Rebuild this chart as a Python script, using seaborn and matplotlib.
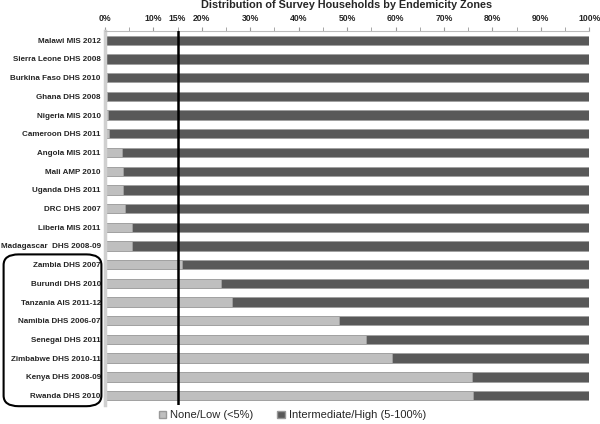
import numpy as np
import pandas as pd
import matplotlib
matplotlib.use('Agg')
import matplotlib.pyplot as plt
import seaborn as sns
from matplotlib.patches import FancyBboxPatch, Patch

surveys = ['Malawi MIS 2012', 'Sierra Leone DHS 2008', 'Burkina Faso DHS 2010', 'Ghana DHS 2008',
           'Nigeria MIS 2010', 'Cameroon DHS 2011', 'Angola MIS 2011', 'Mali AMP 2010',
           'Uganda DHS 2011', 'DRC DHS 2007', 'Liberia MIS 2011', 'Madagascar  DHS 2008-09',
           'Zambia DHS 2007', 'Burundi DHS 2010', 'Tanzania AIS 2011-12', 'Namibia DHS 2006-07',
           'Senegal DHS 2011', 'Zimbabwe DHS 2010-11', 'Kenya DHS 2008-09', 'Rwanda DHS 2010']
low = [0.0, 0.0, 0.4, 0.4, 0.7, 0.8, 3.6, 3.8, 3.8, 4.1, 5.6, 5.6,
       15.9, 24.0, 26.3, 48.4, 54.0, 59.2, 75.8, 76.0]
high = [100 - v for v in low]

light = '#bfbfbf'
dark = '#595959'

df = pd.DataFrame({'survey': surveys, 'low': low, 'high': high})
df['total'] = df['low'] + df['high']

sns.set_style('white')
plt.rcParams['font.family'] = ['Liberation Sans', 'DejaVu Sans']

fig = plt.figure(figsize=(6, 4.24), dpi=100)
ax = fig.add_axes([0.175, 0.045, 0.807, 0.882])

sns.barplot(data=df, x='total', y='survey', orient='h', color=dark, width=0.5,
            edgecolor='#a0a0a0', linewidth=0.6, saturation=1, ax=ax)
sns.barplot(data=df, x='low', y='survey', orient='h', color=light, width=0.5,
            edgecolor='#a0a0a0', linewidth=0.6, saturation=1, ax=ax)

ax.set_xlim(0, 100)
ax.set_ylim(len(surveys) - 0.5, -0.5)
ax.xaxis.tick_top()
ax.set_xticks(np.arange(0, 101, 10))
ax.set_xticks(np.arange(0, 101, 5), minor=True)
ax.set_xticklabels([f'{v}%' for v in range(0, 101, 10)], fontsize=6.2, fontweight='bold')
ax.tick_params(axis='x', which='both', top=True, length=3, color='#999999', pad=2.5)
ax.tick_params(axis='y', length=0, labelsize=5.8, pad=3)
for lab in ax.get_yticklabels():
    lab.set_fontweight('bold')
ax.set_xlabel('')
ax.set_ylabel('')

for s in ['right', 'bottom']:
    ax.spines[s].set_visible(False)
ax.spines['top'].set_color('#bbbbbb')
ax.spines['top'].set_linewidth(0.8)
ax.spines['left'].set_color('#d0d0d0')
ax.spines['left'].set_linewidth(2.5)

ax.axvline(15, color='black', linewidth=1.8, zorder=5)
ax.text(15, 1.02, '15%', transform=ax.get_xaxis_transform(), ha='center', va='bottom',
        fontsize=6.2, fontweight='bold')

fig.text(0.578, 1.0, 'Distribution of Survey Households by Endemicity Zones', fontsize=7.8,
         fontweight='bold', ha='center', va='top')

box = FancyBboxPatch((0.006, 0.042), 0.163, 0.358, boxstyle='round,pad=0,rounding_size=0.025',
                     transform=fig.transFigure, fill=False, edgecolor='black', linewidth=1.5)
fig.patches.append(box)

handles = [Patch(facecolor=light, edgecolor='#999999', label='None/Low (<5%)'),
           Patch(facecolor=dark, edgecolor='#999999', label='Intermediate/High (5-100%)')]
fig.legend(handles=handles, loc='lower center', bbox_to_anchor=(0.487, -0.015), ncol=2,
           frameon=False, handlelength=0.7, handleheight=0.7,
           handletextpad=0.3, columnspacing=2.2, prop={'size': 8})

fig.savefig('out.png', dpi=100)
